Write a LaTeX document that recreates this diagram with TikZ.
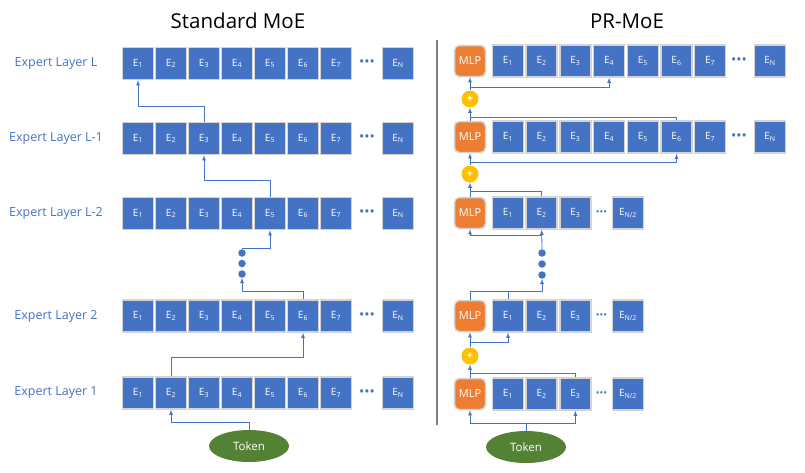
\documentclass[tikz,border=0pt]{standalone}
\usepackage{fontspec}
\setmainfont{Open Sans}
\usetikzlibrary{shapes.geometric}
\definecolor{moeblue}{HTML}{4472C4}
\definecolor{mlporange}{HTML}{ED7D31}
\definecolor{tokgreen}{HTML}{548235}
\definecolor{plusyellow}{HTML}{FFC000}
\definecolor{boxgray}{HTML}{D3D3D3}
\definecolor{sepgray}{HTML}{7F7F7F}

\tikzset{
	expert/.style={draw=boxgray, line width=1.5pt, fill=moeblue, text=white, minimum width=31pt, minimum height=32pt, inner sep=0pt, font=\fontsize{10}{12}\selectfont},
	mlp/.style={draw=boxgray, line width=1.5pt, fill=mlporange, text=white, rounded corners=5pt, minimum width=31pt, minimum height=31pt, inner sep=0pt, font=\fontsize{11}{13}\selectfont},
	token/.style={ellipse, fill=tokgreen, text=white, minimum width=80pt, minimum height=32pt, inner sep=0pt, font=\fontsize{11.5}{13}\selectfont},
	plus/.style={circle, fill=plusyellow, minimum size=17pt, inner sep=0pt, text=white, font=\fontsize{11}{12}\selectfont\bfseries},
	bigdot/.style={circle, fill=moeblue, minimum size=7.5pt, inner sep=0pt},
	hdots/.style={text=moeblue, inner sep=0pt, font=\fontsize{14}{14}\selectfont},
	smalldots/.style={text=moeblue, inner sep=0pt, font=\fontsize{10}{10}\selectfont},
	layerlabel/.style={text=moeblue, font=\fontsize{12.5}{14}\selectfont},
	title/.style={font=\fontsize{20.5}{24}\selectfont},
	flow/.style={draw=moeblue, line width=0.8pt, -latex},
	link/.style={draw=moeblue, line width=0.8pt}
}

\begin{document}
\begin{tikzpicture}[x=1pt,y=-1pt]
\useasboundingbox (0,0) rectangle (805,472);

\path (238,21) node[title] (tstd) {Standard MoE};
\path (627,21) node[title] (tpr) {PR-MoE};
\draw[sepgray, line width=2.5pt] (437,40) -- (437,425);

% standard MoE
\foreach \r/\y/\lab in {1/393/Expert Layer 1, 2/316/Expert Layer 2, 3/213.5/Expert Layer L-2, 4/138.5/Expert Layer L-1, 5/63.5/Expert Layer L}
{
	\path (56,\y) node[layerlabel] (lab\r) {\lab};
	\foreach \i in {1,...,7}
		\path ({105+33*\i},\y) node[expert] (l\r-\i) {E\textsubscript{\i}};
	\path (367,\y) node[hdots] (l\r-dots) {\textbullet\textbullet\textbullet};
	\path (398,\y) node[expert] (l\r-N) {E\textsubscript{N}};
}
\foreach \k/\y in {1/253, 2/263.5, 3/274}
	\path (242,\y) node[bigdot] (ldot\k) {};
\path (249,446) node[token] (tokL) {Token};

\draw[flow] (tokL.north) -- (tokL.north |- 0,422) -| (l1-2.south);
\draw[flow] (l1-2.north) -- (l1-2.north |- 0,357) -| (l2-6.south);
\draw[flow] (l2-6.north) -- (l2-6.north |- 0,291) -| (ldot3.south);
\draw[flow] (ldot1.north) -- (ldot1.north |- 0,248) -| (l3-5.south);
\draw[flow] (l3-5.north) -- (l3-5.north |- 0,180) -| (l4-3.south);
\draw[flow] (l4-3.north) -- (l4-3.north |- 0,106) -| (l5-1.south);

% PR-MoE
\foreach \r/\y in {1/394, 2/316, 3/213}
{
	\path (470,\y) node[mlp] (r\r-m) {MLP};
	\foreach \i in {1,2,3}
		\path ({474.3+33.7*\i},\y) node[expert] (r\r-\i) {E\textsubscript{\i}};
	\path (601.5,\y) node[smalldots] (r\r-dots) {\textbullet\textbullet\textbullet};
	\path (628,\y) node[expert] (r\r-N) {E\textsubscript{N/2}};
}
\foreach \r/\y in {4/137, 5/61}
{
	\path (470,\y) node[mlp] (r\r-m) {MLP};
	\foreach \i in {1,...,7}
		\path ({474.3+33.7*\i},\y) node[expert] (r\r-\i) {E\textsubscript{\i}};
	\path (739,\y) node[hdots] (r\r-dots) {\textbullet\textbullet\textbullet};
	\path (770,\y) node[expert] (r\r-N) {E\textsubscript{N}};
}
\foreach \k/\y in {1/253, 2/264, 3/275}
	\path (542,\y) node[bigdot] (rdot\k) {};
\path (470,356) node[plus] (plusA) {+};
\path (470,174) node[plus] (plusB) {+};
\path (470,99) node[plus] (plusC) {+};
\path (526,447) node[token] (tokR) {Token};

\draw[flow] (tokR.north) -- (tokR.north |- 0,423) -| (r1-m.south);
\draw[flow] (tokR.north |- 0,423) -| (r1-3.south);
\draw[flow] (r1-m.north) -- (plusA.south);
\draw[link] (r1-3.north) |- (r1-m.north |- 0,373);
\draw[flow] (plusA.north) -- (r2-m.south);
\draw[flow] (plusA.north |- 0,342) -| (r2-1.south);
\draw[flow] (r2-m.north) -- (r2-m.north |- 0,291) -| (rdot3.south);
\draw[link] (r2-1.north) -- (r2-1.north |- 0,291);
\draw[flow] (rdot1.north) -- (r3-2.south);
\draw[flow] (r3-2.south |- 0,235) -| (r3-m.south);
\draw[flow] (r3-m.north) -- (plusB.south);
\draw[link] (r3-2.north) |- (r3-m.north |- 0,191);
\draw[flow] (plusB.north) -- (r4-m.south);
\draw[flow] (plusB.north |- 0,162) -| (r4-6.south);
\draw[flow] (r4-m.north) -- (plusC.south);
\draw[link] (r4-6.north) |- (r4-m.north |- 0,117);
\draw[flow] (plusC.north) -- (r5-m.south);
\draw[flow] (plusC.north |- 0,87) -| (r5-4.south);

\end{tikzpicture}
\end{document}
